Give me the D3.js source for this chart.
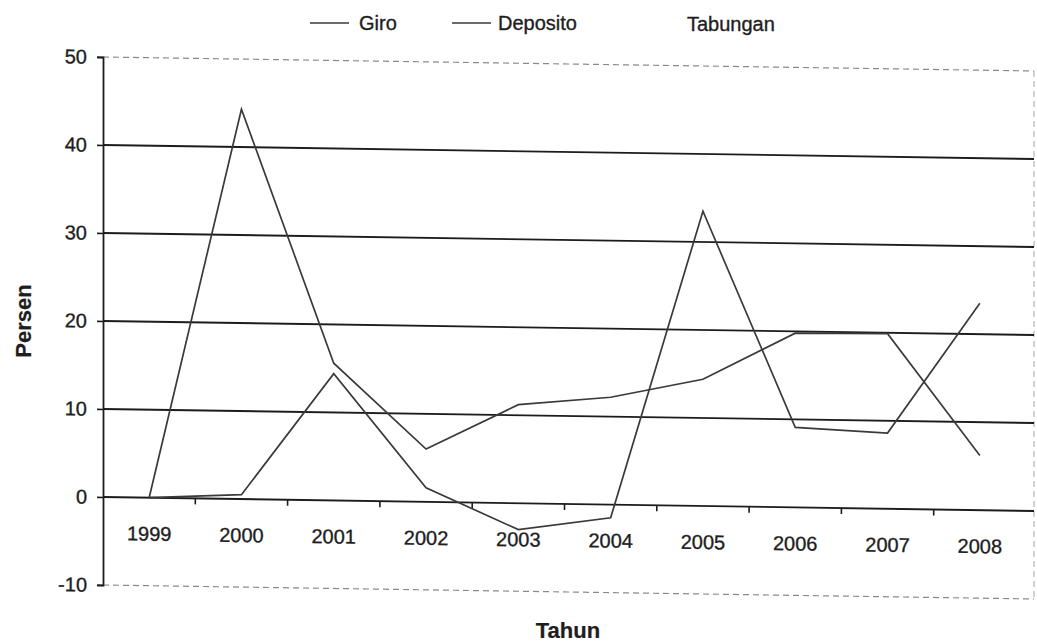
<!DOCTYPE html>
<html>
<head>
<meta charset="utf-8">
<script src="https://cdn.jsdelivr.net/npm/d3@7"></script>
<style>
  html, body { margin: 0; padding: 0; background: #fff; }
  svg { display: block; }
  text { font-family: "Liberation Sans", Arial, sans-serif; fill: #1e1e1e; stroke: #1e1e1e; stroke-width: 0.35px; }
  text.title { stroke-width: 0.2px; }
</style>
</head>
<body>
<svg id="chart" width="1037" height="642"></svg>
<script>
// Years on the category axis
const years = ["1999", "2000", "2001", "2002", "2003", "2004", "2005", "2006", "2007", "2008"];
// Growth, percent per year
const giro     = [0, 44.3, 15.6, 6.0, 11.2, 12.2, 14.4, 19.8, 19.9, 6.2];
const deposito = [0, 0.5, 14.4, 1.6, -3.0, -1.5, 33.5, 9.1, 8.6, 23.5];
// Legend entries (Tabungan has no visible line)
const seriesNames = ["Giro", "Deposito", "Tabungan"];
// Value axis ticks
const yTicks = [-10, 0, 10, 20, 30, 40, 50];

const svg = d3.select("#chart");
const left = 103, right = 1026, gridRight = 1034;

const x = d3.scaleBand().domain(years).range([left, right]).paddingInner(0).paddingOuter(0);
const y = d3.scaleLinear().domain([-10, 50]).range([585, 57]);

// plot drawn with a slight downward tilt to the right
const plot = svg.append("g")
  .attr("transform", `translate(${left},0) skewY(0.86) translate(${-left},0)`);

// dashed plot-area border (top, right, bottom)
const border = plot.append("g")
  .attr("fill", "none").attr("stroke", "#8a8a8a").attr("stroke-width", 1.2)
  .attr("stroke-dasharray", "6,4");
border.append("line").attr("x1", left).attr("x2", gridRight).attr("y1", y(50)).attr("y2", y(50));
border.append("line").attr("x1", left).attr("x2", gridRight).attr("y1", y(-10)).attr("y2", y(-10));
border.append("line").attr("x1", gridRight).attr("x2", gridRight).attr("y1", y(50)).attr("y2", y(-10))
  .attr("stroke", "#b5b5b5");

// horizontal gridlines
plot.append("g").selectAll("line")
  .data(yTicks.filter(v => v > -10 && v < 50))
  .join("line")
  .attr("x1", left).attr("x2", gridRight)
  .attr("y1", d => y(d)).attr("y2", d => y(d))
  .attr("stroke", "#1c1c1c").attr("stroke-width", 1.9);

// value axis
const yAxis = plot.append("g")
  .attr("transform", `translate(${left},0)`)
  .call(d3.axisLeft(y).tickValues(yTicks).tickSize(6).tickPadding(10).tickFormat(d => String(d)));
yAxis.select(".domain").attr("stroke", "#1c1c1c").attr("stroke-width", 1.8);
yAxis.selectAll(".tick line").attr("stroke", "#1c1c1c").attr("stroke-width", 1.6);
yAxis.selectAll(".tick text").attr("font-size", 20).attr("fill", "#1e1e1e")
  .attr("font-family", "Liberation Sans, Arial, sans-serif");

// category axis sitting on the zero line, ticks between categories
const xAxis = plot.append("g");
xAxis.selectAll("line.tk")
  .data(years.slice(1))
  .join("line")
  .attr("class", "tk")
  .attr("x1", d => x(d)).attr("x2", d => x(d))
  .attr("y1", y(0)).attr("y2", y(0) + 6)
  .attr("stroke", "#1c1c1c").attr("stroke-width", 1.6);
xAxis.selectAll("text")
  .data(years)
  .join("text")
  .attr("x", d => x(d) + x.bandwidth() / 2)
  .attr("y", y(0) + 43)
  .attr("text-anchor", "middle")
  .attr("font-size", 20)
  .text(d => d);

// series lines
const line = d3.line()
  .x((d, i) => x(years[i]) + x.bandwidth() / 2)
  .y(d => y(d));

[giro, deposito].forEach(vals => {
  plot.append("path")
    .datum(vals)
    .attr("d", line)
    .attr("fill", "none")
    .attr("stroke", "#3a3a3a")
    .attr("stroke-width", 1.7)
    .attr("stroke-linejoin", "miter");
});

// legend
const legendX = [310, 452, 687];
const legend = svg.append("g");
seriesNames.forEach((name, i) => {
  const g = legend.append("g").attr("transform", `translate(${legendX[i]},23)`);
  if (i < 2) {
    g.append("line").attr("x1", 0).attr("x2", 39).attr("y1", 0).attr("y2", 0)
      .attr("stroke", "#3a3a3a").attr("stroke-width", 1.7);
    g.append("text").attr("x", i === 0 ? 49 : 46).attr("y", 7).attr("font-size", 20).text(name);
  } else {
    g.append("text").attr("x", 0).attr("y", 8).attr("font-size", 20).text(name);
  }
});

// axis titles
svg.append("text")
  .attr("class", "title")
  .attr("x", 568).attr("y", 638)
  .attr("text-anchor", "middle")
  .attr("font-size", 22).attr("font-weight", "bold")
  .text("Tahun");
svg.append("text")
  .attr("class", "title")
  .attr("transform", "translate(31,321) rotate(-90)")
  .attr("text-anchor", "middle")
  .attr("font-size", 22).attr("font-weight", "bold")
  .text("Persen");
</script>
</body>
</html>
